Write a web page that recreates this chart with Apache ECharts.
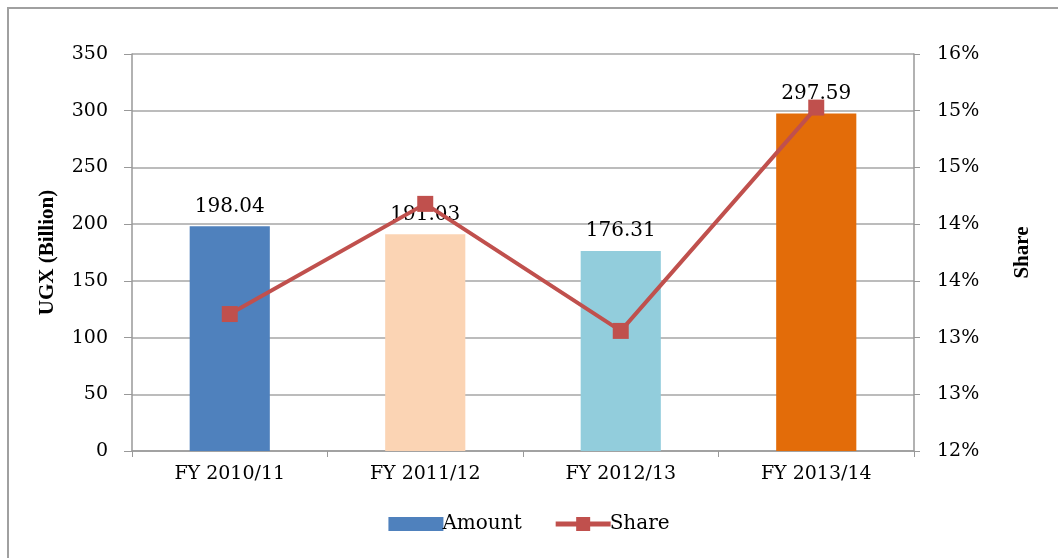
<!DOCTYPE html>
<html>
<head>
<meta charset="utf-8">
<script src="https://cdn.jsdelivr.net/npm/echarts@6/dist/echarts.min.js"></script>
<style>
  html, body { margin: 0; padding: 0; background: #fff; overflow: hidden; }
  #chart { width: 1058px; height: 558px; }
</style>
</head>
<body>
<div id="chart"></div>
<script>
  // data
  const years = ['FY 2010/11', 'FY 2011/12', 'FY 2012/13', 'FY 2013/14'];
  const amount = [198.04, 191.03, 176.31, 297.59];
  const share = [13.38, 14.49, 13.21, 15.46];
  const barColors = ['#4f81bd', '#fbd4b4', '#92cddc', '#e36c09'];

  const font = 'DejaVu Serif';

  let myChart = echarts.init(document.getElementById('chart'));

  myChart.setOption({
    animation: false,
    textStyle: { fontFamily: font },
    // outer frame (only left and top edges are visible)
    graphic: [{
      type: 'polyline',
      silent: true,
      shape: { points: [[8, 558], [8, 8], [1058, 8]] },
      style: { stroke: '#a0a0a0', lineWidth: 2, fill: null }
    }],
    grid: { left: 132, right: 144, top: 54, bottom: 107, containLabel: false },
    legend: {
      bottom: 19,
      left: 'center',
      itemWidth: 55,
      itemHeight: 14,
      itemGap: 34,
      textStyle: { fontFamily: font, fontSize: 20, color: '#000', padding: [0, 0, 0, -6] },
      data: [
        { name: 'Amount', icon: 'rect' },
        { name: 'Share', icon: 'path://M0,4.5 L20.5,4.5 L20.5,0 L34.5,0 L34.5,4.5 L55,4.5 L55,9.5 L34.5,9.5 L34.5,14 L20.5,14 L20.5,9.5 L0,9.5 Z' }
      ]
    },
    xAxis: {
      type: 'category',
      data: years,
      axisLine: { lineStyle: { color: '#999', width: 1.5 } },
      axisTick: { show: true, length: 6, lineStyle: { color: '#999' } },
      axisLabel: { fontFamily: font, fontSize: 19, color: '#000', margin: 14 }
    },
    yAxis: [{
      type: 'value',
      min: 0,
      max: 350,
      interval: 50,
      name: 'UGX (Billion)',
      nameLocation: 'middle',
      nameRotate: 90,
      nameGap: 74,
      nameTextStyle: { fontFamily: 'Liberation Serif', fontWeight: 'bold', fontSize: 21, color: '#000' },
      axisLine: { show: true, lineStyle: { color: '#999', width: 1.5 } },
      axisTick: { show: true, length: 8, lineStyle: { color: '#999' } },
      axisLabel: { fontFamily: font, fontSize: 19, color: '#000', margin: 24 },
      splitLine: { lineStyle: { color: '#a6a6a6', width: 1.5 } }
    }, {
      type: 'value',
      min: 12,
      max: 16,
      interval: 4 / 7,
      name: 'Share',
      nameLocation: 'middle',
      nameRotate: 90,
      nameGap: 98,
      nameTextStyle: { fontFamily: 'Liberation Serif', fontWeight: 'bold', fontSize: 21, color: '#000' },
      axisLine: { show: true, lineStyle: { color: '#999', width: 1.5 } },
      axisTick: { show: true, length: 6, lineStyle: { color: '#999' } },
      axisLabel: {
        fontFamily: font, fontSize: 19, color: '#000', margin: 23,
        formatter: function (v) { return Math.round(v) + '%'; }
      },
      splitLine: { show: false }
    }],
    series: [{
      name: 'Amount',
      type: 'bar',
      barWidth: '41%',
      itemStyle: { color: barColors[0] },
      label: {
        show: true,
        position: 'top',
        distance: 10,
        fontFamily: font,
        fontSize: 20,
        color: '#000',
        formatter: function (p) { return p.value.toFixed(2); }
      },
      data: amount.map(function (v, i) {
        return { value: v, itemStyle: { color: barColors[i] } };
      })
    }, {
      name: 'Share',
      type: 'line',
      yAxisIndex: 1,
      symbol: 'rect',
      symbolSize: 16,
      lineStyle: { color: '#c0504d', width: 4 },
      itemStyle: { color: '#c0504d' },
      z: 3,
      data: share
    }]
  });
</script>
</body>
</html>
